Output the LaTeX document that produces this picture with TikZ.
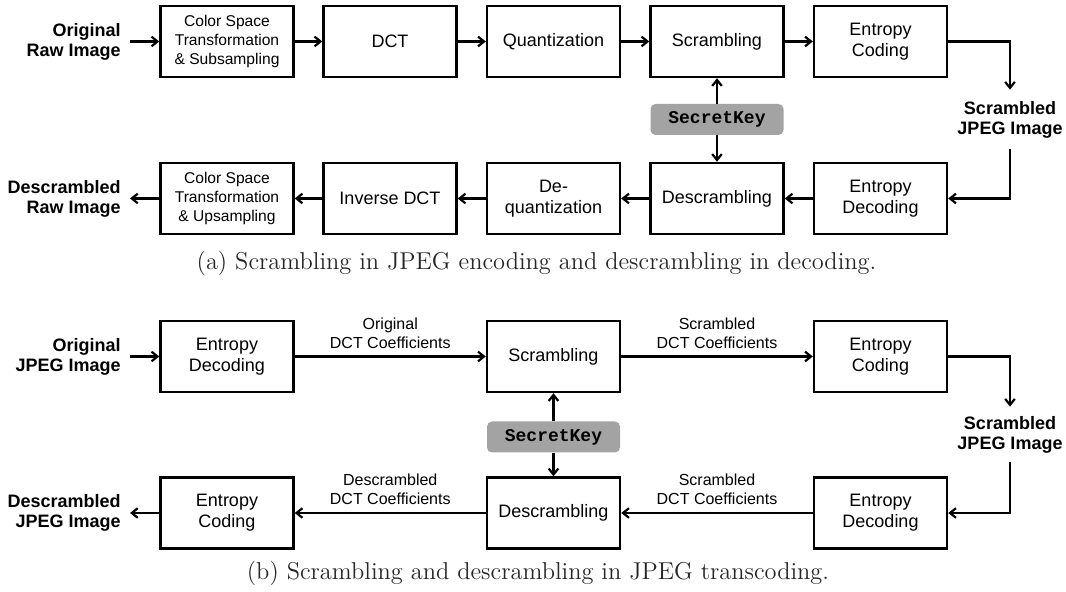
\documentclass[tikz,border=0pt]{standalone}
\usepackage{fontspec}
\newfontfamily\arial{Liberation Sans}
\newfontfamily\cour{Liberation Mono}
\usetikzlibrary{arrows.meta}
\begin{document}
\begin{tikzpicture}[x=0.5pt,y=-0.5pt,
  blk/.style={draw, line width=1.2pt, minimum width=66.5pt, minimum height=35.5pt, inner sep=0pt, align=center, font=\arial\fontsize{9}{10.5}\selectfont},
  blks/.style={blk, font=\arial\fontsize{7.8}{9.5}\selectfont},
  key/.style={fill=black!36, rounded corners=2.5pt, minimum width=66.5pt, minimum height=15.5pt, inner sep=0pt, font=\cour\bfseries\fontsize{9}{10}\selectfont},
  io/.style={align=right, font=\arial\bfseries\fontsize{9}{10}\selectfont},
  ioc/.style={io, align=center, inner xsep=0pt},
  arr/.style={-{Straight Barb[length=3pt,width=4.8pt]}, line width=1.1pt},
  lab/.style={font=\arial\fontsize{8}{9.5}\selectfont, align=center, inner sep=0pt},
  captext/.style={font=\fontsize{12.2}{14}\selectfont, text=black!85}
]
\useasboundingbox (0,0) rectangle (1066,592);
% ---------- (a) ----------
\node[blks] (a1) at (227,41.5) {Color Space\\Transformation\\\& Subsampling};
\node[blk] (a2) at (390,41.5) {DCT};
\node[blk] (a3) at (553.5,41.5) {Quantization};
\node[blk] (a4) at (717,41.5) {Scrambling};
\node[blk] (a5) at (880.5,41.5) {Entropy\\Coding};
\node[key] (ka) at (717,119.5) {SecretKey};
\node[blk] (a6) at (880.5,198.5) {Entropy\\Decoding};
\node[blk] (a7) at (717,198.5) {Descrambling};
\node[blk] (a8) at (553.5,198.5) {De-\\quantization};
\node[blk] (a9) at (390,198.5) {Inverse DCT};
\node[blks] (a10) at (227,198.5) {Color Space\\Transformation\\\& Upsampling};
\node[io, anchor=east, inner xsep=4.5pt] (ain) at (130,41.5) {Original\\Raw Image};
\node[io, anchor=east, inner xsep=4.5pt] (aout) at (130,198.5) {Descrambled\\Raw Image};
\node[ioc, inner ysep=5.5pt] (asj) at (1010,119.5) {Scrambled\\JPEG Image};
\draw[arr] (ain) -- (a1);
\draw[arr] (a1) -- (a2);
\draw[arr] (a2) -- (a3);
\draw[arr] (a3) -- (a4);
\draw[arr] (a4) -- (a5);
\draw[arr] (a5.east) -| (asj.north);
\draw[arr] (asj.south) |- (a6.east);
\draw[arr] (a6) -- (a7);
\draw[arr] (a7) -- (a8);
\draw[arr] (a8) -- (a9);
\draw[arr] (a9) -- (a10);
\draw[arr] (a10) -- (aout);
\draw[arr] (ka) -- (a4);
\draw[arr] (ka) -- (a7);
\node[captext] (capa) at (536.5,263) {(a) Scrambling in JPEG encoding and descrambling in decoding.};
% ---------- (b) ----------
\node[blk] (b1) at (227,356.5) {Entropy\\Decoding};
\node[blk] (b2) at (553.5,356.5) {Scrambling};
\node[blk] (b3) at (880.5,356.5) {Entropy\\Coding};
\node[key] (kb) at (553.5,437) {SecretKey};
\node[blk] (b4) at (880.5,513) {Entropy\\Decoding};
\node[blk] (b5) at (553.5,513) {Descrambling};
\node[blk] (b6) at (227,513) {Entropy\\Coding};
\node[io, anchor=east, inner xsep=4.5pt] (bin) at (130,356.5) {Original\\JPEG Image};
\node[io, anchor=east, inner xsep=4.5pt] (bout) at (130,513) {Descrambled\\JPEG Image};
\node[ioc, inner ysep=4.5pt] (bsj) at (1010,434.5) {Scrambled\\JPEG Image};
\draw[arr] (bin) -- (b1);
\draw[arr] (b1) -- node[lab, above=3.5pt] {Original\\DCT Coefficients} (b2);
\draw[arr] (b2) -- node[lab, above=3.5pt] {Scrambled\\DCT Coefficients} (b3);
\draw[arr] (b3.east) -| (bsj.north);
\draw[arr] (bsj.south) |- (b4.east);
\draw[arr] (b4) -- node[lab, above=3.5pt] {Scrambled\\DCT Coefficients} (b5);
\draw[arr] (b5) -- node[lab, above=3.5pt] {Descrambled\\DCT Coefficients} (b6);
\draw[arr] (b6) -- (bout);
\draw[arr] (kb) -- (b2);
\draw[arr] (kb) -- (b5);
\node[captext] (capb) at (538,573) {(b) Scrambling and descrambling in JPEG transcoding.};
\end{tikzpicture}
\end{document}
